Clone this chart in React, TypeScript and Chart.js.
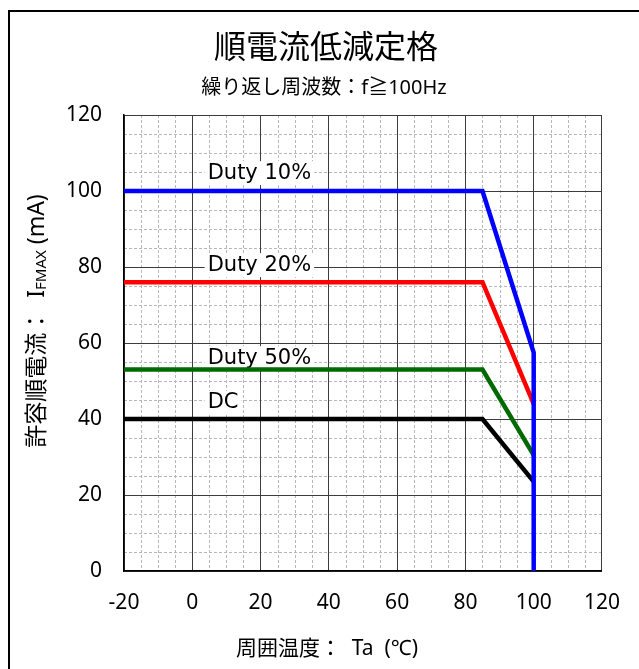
import React, { useEffect, useRef } from 'react';
import { Chart, registerables } from 'chart.js';

Chart.register(...registerables);

// ---- text ----
const TITLE = '順電流低減定格';
const SUBTITLE = '繰り返し周波数：f≧100Hz';
const X_TITLE = '周囲温度：  Ta  (℃)';
const Y_TITLE_MAIN = '許容順電流：  I';
const Y_TITLE_SUB = 'FMAX';
const Y_TITLE_END = ' (mA)';

// ---- axes ----
const X_TICKS = [-20, 0, 20, 40, 60, 80, 100, 120];
const Y_TICKS = [0, 20, 40, 60, 80, 100, 120];
const MINOR_STEP = 5;

// ---- series ----
const seriesNames = ['Duty 10%', 'Duty 20%', 'Duty 50%', 'DC'];
const seriesColors = ['#0000ff', '#ff0000', '#006a00', '#000000'];
const duty10X = [-20, 85, 100, 100];
const duty10Y = [100, 100, 57.5, 0];
const duty20X = [-20, 85, 100];
const duty20Y = [76, 76, 44];
const duty50X = [-20, 85, 100];
const duty50Y = [53, 53, 30.5];
const dcX = [-20, 85, 100];
const dcY = [40, 40, 23.5];

// ---- in-plot labels (data coordinates) ----
const labelAtX = [4.5, 4.5, 4.5, 4.5];
const labelAtY = [104.7, 80.5, 56, 44.2];

const JP = '"Noto Sans", "Noto Sans CJK JP", sans-serif';
const LAT = '"DejaVu Sans", "Noto Sans CJK JP", sans-serif';

function pts(xs: number[], ys: number[]) {
  return xs.map((x, i) => ({ x, y: ys[i] }));
}

const decorPlugin = {
  id: 'decor',
  beforeDraw(chart: any) {
    const { ctx, chartArea, scales } = chart;
    const xs = scales.x;
    const ys = scales.y;
    ctx.save();
    ctx.fillStyle = '#ffffff';
    ctx.fillRect(0, 0, chart.width, chart.height);
    // minor dashed grid
    ctx.strokeStyle = '#b8b8b8';
    ctx.lineWidth = 1;
    ctx.setLineDash([3, 2]);
    ctx.beginPath();
    for (let v = xs.min; v <= xs.max; v += MINOR_STEP) {
      if (X_TICKS.includes(v)) continue;
      const px = Math.round(xs.getPixelForValue(v)) + 0.5;
      ctx.moveTo(px, chartArea.top);
      ctx.lineTo(px, chartArea.bottom);
    }
    for (let v = ys.min; v <= ys.max; v += MINOR_STEP) {
      if (Y_TICKS.includes(v)) continue;
      const py = Math.round(ys.getPixelForValue(v)) + 0.5;
      ctx.moveTo(chartArea.left, py);
      ctx.lineTo(chartArea.right, py);
    }
    ctx.stroke();
    ctx.restore();
  },
  beforeDatasetsDraw(chart: any) {
    const { ctx, scales } = chart;
    ctx.save();
    ctx.font = `21px ${LAT}`;
    ctx.textBaseline = 'middle';
    ctx.textAlign = 'left';
    seriesNames.forEach((name, i) => {
      const px = scales.x.getPixelForValue(labelAtX[i]);
      const py = scales.y.getPixelForValue(labelAtY[i]);
      const w = ctx.measureText(name).width;
      ctx.fillStyle = '#ffffff';
      ctx.fillRect(px - 3, py - 12, w + 6, 24);
      ctx.fillStyle = '#000000';
      ctx.fillText(name, px, py);
    });
    ctx.restore();
  },
  afterDraw(chart: any) {
    const { ctx } = chart;
    ctx.save();
    // outer frame (top & left visible)
    ctx.fillStyle = '#000000';
    ctx.fillRect(8, 10, 2, chart.height - 10);
    ctx.fillRect(8, 10, chart.width - 8, 2);

    ctx.fillStyle = '#000000';
    ctx.textAlign = 'center';
    ctx.textBaseline = 'middle';
    ctx.font = `32px ${JP}`;
    ctx.fillText(TITLE, 326, 49);
    ctx.font = `20px ${JP}`;
    ctx.fillText(SUBTITLE, 324, 88);
    ctx.font = `21px ${JP}`;
    ctx.fillText(X_TITLE, 327, 649);

    // rotated y title with subscript
    ctx.translate(37, 321);
    ctx.rotate(-Math.PI / 2);
    ctx.textAlign = 'left';
    ctx.textBaseline = 'middle';
    const mainFont = `23px ${JP}`;
    const subFont = `15px ${JP}`;
    ctx.font = mainFont;
    const w1 = ctx.measureText(Y_TITLE_MAIN).width;
    const w3 = ctx.measureText(Y_TITLE_END).width;
    ctx.font = subFont;
    const w2 = ctx.measureText(Y_TITLE_SUB).width;
    let x0 = -(w1 + w2 + w3) / 2;
    ctx.font = mainFont;
    ctx.fillText(Y_TITLE_MAIN, x0, 0);
    x0 += w1;
    ctx.font = subFont;
    ctx.fillText(Y_TITLE_SUB, x0, 5);
    x0 += w2;
    ctx.font = mainFont;
    ctx.fillText(Y_TITLE_END, x0, 0);
    ctx.restore();
  },
};

export default function App() {
  const ref = useRef<HTMLCanvasElement | null>(null);

  useEffect(() => {
    document.body.style.margin = '0';
    document.body.style.overflow = 'hidden';
    const canvas = ref.current;
    if (!canvas) return;

    const datasets = [
      { label: seriesNames[0], data: pts(duty10X, duty10Y), borderColor: seriesColors[0] },
      { label: seriesNames[1], data: pts(duty20X, duty20Y), borderColor: seriesColors[1] },
      { label: seriesNames[2], data: pts(duty50X, duty50Y), borderColor: seriesColors[2] },
      { label: seriesNames[3], data: pts(dcX, dcY), borderColor: seriesColors[3] },
    ].map((d) => ({
      ...d,
      borderWidth: 4.5,
      pointRadius: 0,
      fill: false,
      tension: 0,
      borderJoinStyle: 'miter' as const,
      borderCapStyle: 'butt' as const,
    }));

    const gridColor = (list: number[]) => (c: any) =>
      c.tick && list.includes(c.tick.value) ? '#3c3c3c' : 'rgba(0,0,0,0)';

    const chart = new Chart(canvas, {
      type: 'line',
      data: { datasets },
      plugins: [decorPlugin],
      options: {
        animation: false,
        responsive: false,
        devicePixelRatio: 1,
        layout: { padding: { top: 115, right: 31, left: 0, bottom: 0 } },
        plugins: {
          legend: { display: false },
          title: { display: false },
          tooltip: { enabled: false },
        },
        scales: {
          x: {
            type: 'linear',
            min: -20,
            max: 120,
            afterFit: (s: any) => {
              s.height = 98;
            },
            ticks: {
              stepSize: MINOR_STEP,
              autoSkip: false,
              maxRotation: 0,
              padding: 19,
              color: '#000',
              font: { family: '"Noto Sans", sans-serif', size: 21 },
              callback: (v: any) => (X_TICKS.includes(Number(v)) ? String(v) : ''),
            },
            grid: { color: gridColor(X_TICKS), lineWidth: 1, drawTicks: false },
            border: { display: true, color: '#000', width: 1.5 },
          },
          y: {
            type: 'linear',
            min: 0,
            max: 120,
            afterFit: (s: any) => {
              s.width = 124;
            },
            ticks: {
              stepSize: MINOR_STEP,
              autoSkip: false,
              padding: 22,
              color: '#000',
              font: { family: '"Noto Sans", sans-serif', size: 21 },
              callback: (v: any) => (Y_TICKS.includes(Number(v)) ? String(v) : ''),
            },
            grid: { color: gridColor(Y_TICKS), lineWidth: 1, drawTicks: false },
            border: { display: true, color: '#000', width: 1.5 },
          },
        },
      },
    });
    return () => chart.destroy();
  }, []);

  return <canvas ref={ref} width={639} height={669} style={{ display: 'block' }} />;
}
